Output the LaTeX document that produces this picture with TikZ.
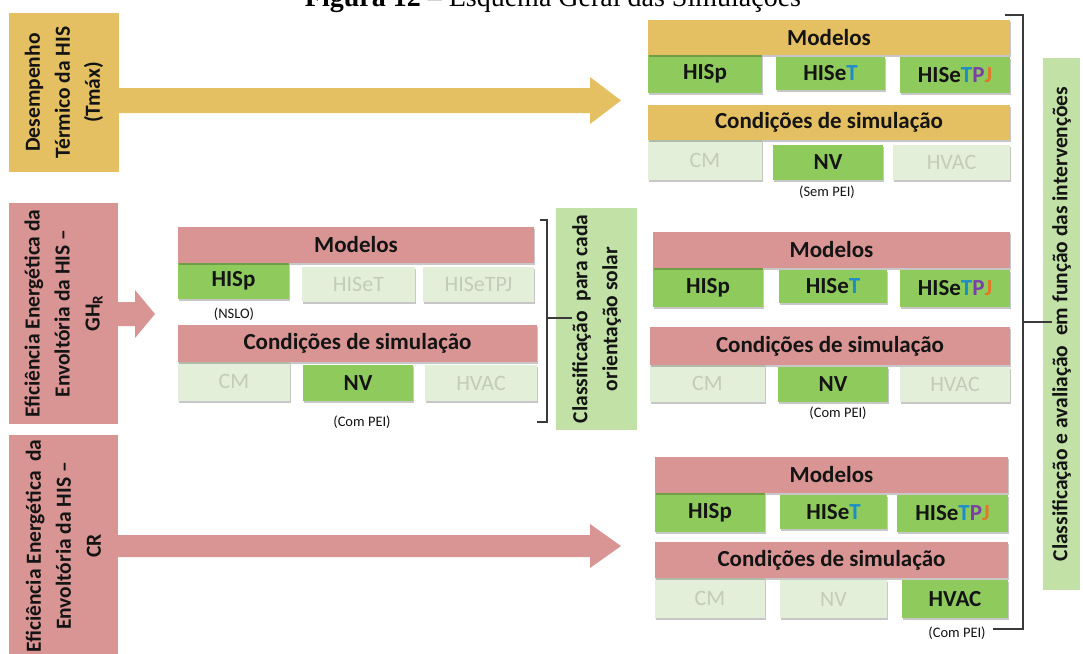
\documentclass[tikz,border=0pt]{standalone}
\usepackage{fontspec}
\setmainfont{Carlito}
\newfontfamily\tnr{Liberation Serif}
\usetikzlibrary{shadows}
\definecolor{yel}{HTML}{E4C062}
\definecolor{pnk}{HTML}{D99594}
\definecolor{grn}{HTML}{8FCB5C}
\definecolor{lgt}{HTML}{E3EFD8}
\definecolor{lgttxt}{HTML}{C3CCBA}
\definecolor{pale}{HTML}{C2E1A6}
\definecolor{txt}{HTML}{141414}
\definecolor{tblue}{HTML}{1E8CC8}
\definecolor{tpurp}{HTML}{7A3FA8}
\definecolor{torng}{HTML}{E0782A}
\definecolor{brk}{HTML}{3A3A3A}
\newcommand\mkbox[7]{\node[#2, minimum width={#5pt-#3pt}, minimum height={#6pt-#4pt}] (#1) at ({(#3+#5)/2},{(#4+#6)/2}) {#7};}
\tikzset{
  base/.style={inner sep=0pt, outer sep=0pt, text=txt, font=\bfseries\fontsize{23}{27}\selectfont},
  shad/.style={drop shadow={shadow xshift=0.5pt, shadow yshift=-2pt, opacity=0.22, fill=black}},
  ybar/.style={base, fill=yel, shad},
  pbar/.style={base, fill=pnk, shad},
  gbox/.style={base, fill=grn, shad},
  lbox/.style={base, fill=lgt, text=lgttxt, font=\fontsize{22}{26}\selectfont, shad},
  side/.style={inner sep=0pt, outer sep=0pt, text=txt, rotate=90, align=center, font=\bfseries\fontsize{21.5}{30}\selectfont},
  note/.style={inner sep=0pt, text=txt, font=\fontsize{14.5}{16}\selectfont},
  brack/.style={draw=brk, line width=1.1pt},
}
\begin{document}
\begin{tikzpicture}[x=1pt,y=-1pt]
\useasboundingbox (0,0) rectangle (1083,653);
\fill[white] (0,0) rectangle (1083,653);
% title (cut at the top edge, as in the reference)
\node[inner sep=0pt, anchor=base, font=\tnr\fontsize{28}{30}\selectfont] (title) at (553,6) {\textbf{Figura 12} – Esquema Geral das Simulações};
% left boxes
\fill[yel] (9,13) rectangle (119,172);
\node[side] (b1) at (64,92.5) {Desempenho\\Térmico da HIS\\(Tmáx)};
\coordinate (b1e) at (119,100.5);
\fill[pnk] (9,203) rectangle (118,424);
\node[side] (b2) at (63.5,313.5) {Eficiência Energética da\\Envoltória da HIS –\\GH\textsubscript{R}};
\coordinate (b2e) at (118,314);
\fill[pnk] (9,435) rectangle (118,660);
\node[side] (b3) at (63.5,546) {Eficiência Energética\ \ da\\Envoltória da HIS –\\CR};
\coordinate (b3e) at (118,546);
% block arrows
\fill[yel] ([yshift=12.5pt]b1e) -- (590,88) -- (590,77) -- (621,100.5) -- (590,124) -- (590,113) -- ([yshift=-12.5pt]b1e) -- cycle;
\fill[pnk] ([yshift=12pt]b2e) -- (135,302) -- (135,290) -- (155,314) -- (135,338) -- (135,326) -- ([yshift=-12pt]b2e) -- cycle;
\fill[pnk] ([yshift=11pt]b3e) -- (590,535) -- (590,524) -- (621,546) -- (590,568) -- (590,557) -- ([yshift=-11pt]b3e) -- cycle;
% middle group
\mkbox{mHp}{gbox}{178}{263}{289}{299}{HISp}
\mkbox{mHt}{lbox}{302}{267}{415}{302}{HISeT}
\mkbox{mHtpj}{lbox}{423}{267}{534}{302}{HISeTPJ}
\mkbox{mM}{pbar}{178}{227}{534}{263}{Modelos}
\node[note] (nslo) at (234,314) {(NSLO)};
\mkbox{mCM}{lbox}{178}{362}{290}{401}{CM}
\mkbox{mNV}{gbox}{303}{365}{413}{401}{NV}
\mkbox{mHV}{lbox}{425}{365}{537}{401}{HVAC}
\mkbox{mC}{pbar}{178}{325}{537}{362}{Condições de simulação}
\node[note] (mpei) at (362,422) {(Com PEI)};
\fill[pale] (556,208) rectangle (637,430);
\node[side] (cls) at (596.5,319) {Classificação\ \ para cada\\orientação solar};
\draw[brack] (540,220) -- (547,220) -- (547,422) -- (537,422);
\draw[brack] (547,318) -- (cls.north |- 0,318);
% right group 1
\mkbox{aHp}{gbox}{648}{55}{762}{93}{HISp}
\mkbox{aHt}{gbox}{776}{57}{885}{90}{HISe\textcolor{tblue}{T}}
\mkbox{aHtpj}{gbox}{900}{57}{1010}{93}{HISe\textcolor{tblue}{T}\textcolor{tpurp}{P}\textcolor{torng}{J}}
\mkbox{aM}{ybar}{648}{20}{1010}{55}{Modelos}
\mkbox{aCM}{lbox}{648}{140}{762}{180}{CM}
\mkbox{aNV}{gbox}{773}{145}{883}{180}{NV}
\mkbox{aHV}{lbox}{893}{145}{1010}{180}{HVAC}
\mkbox{aC}{ybar}{648}{105}{1010}{140}{Condições de simulação}
\node[note] (apei) at (827,192) {(Sem PEI)};
% right group 2
\mkbox{bHp}{gbox}{653}{268}{763}{307}{HISp}
\mkbox{bHt}{gbox}{779}{270}{887}{303}{HISe\textcolor{tblue}{T}}
\mkbox{bHtpj}{gbox}{900}{270}{1010}{307}{HISe\textcolor{tblue}{T}\textcolor{tpurp}{P}\textcolor{torng}{J}}
\mkbox{bM}{pbar}{653}{232}{1010}{268}{Modelos}
\mkbox{bCM}{lbox}{650}{365}{765}{402}{CM}
\mkbox{bNV}{gbox}{778}{367}{888}{402}{NV}
\mkbox{bHV}{lbox}{900}{367}{1010}{402}{HVAC}
\mkbox{bC}{pbar}{650}{327}{1010}{365}{Condições de simulação}
\node[note] (bpei) at (838,413) {(Com PEI)};
% right group 3
\mkbox{cHp}{gbox}{655}{493}{765}{532}{HISp}
\mkbox{cHt}{gbox}{780}{495}{887}{529}{HISe\textcolor{tblue}{T}}
\mkbox{cHtpj}{gbox}{897}{495}{1008}{532}{HISe\textcolor{tblue}{T}\textcolor{tpurp}{P}\textcolor{torng}{J}}
\mkbox{cM}{pbar}{655}{457}{1008}{493}{Modelos}
\mkbox{cCM}{lbox}{655}{578}{765}{618}{CM}
\mkbox{cNV}{lbox}{780}{580}{887}{618}{NV}
\mkbox{cHV}{gbox}{902}{580}{1008}{618}{HVAC}
\mkbox{cC}{pbar}{655}{542}{1008}{578}{Condições de simulação}
\node[note] (cpei) at (957,633) {(Com PEI)};
% right summary box and bracket
\fill[pale] (1043,58) rectangle (1080,590);
\node[side] (fin) at (1061.5,324) {Classificação e avaliação\ \ em função das intervenções};
\draw[brack] (1005,15) -- (1023,15) -- (1023,629) -- (993,629);
\draw[brack] (1023,322) -- (fin.north |- 0,322);
\end{tikzpicture}
\end{document}
